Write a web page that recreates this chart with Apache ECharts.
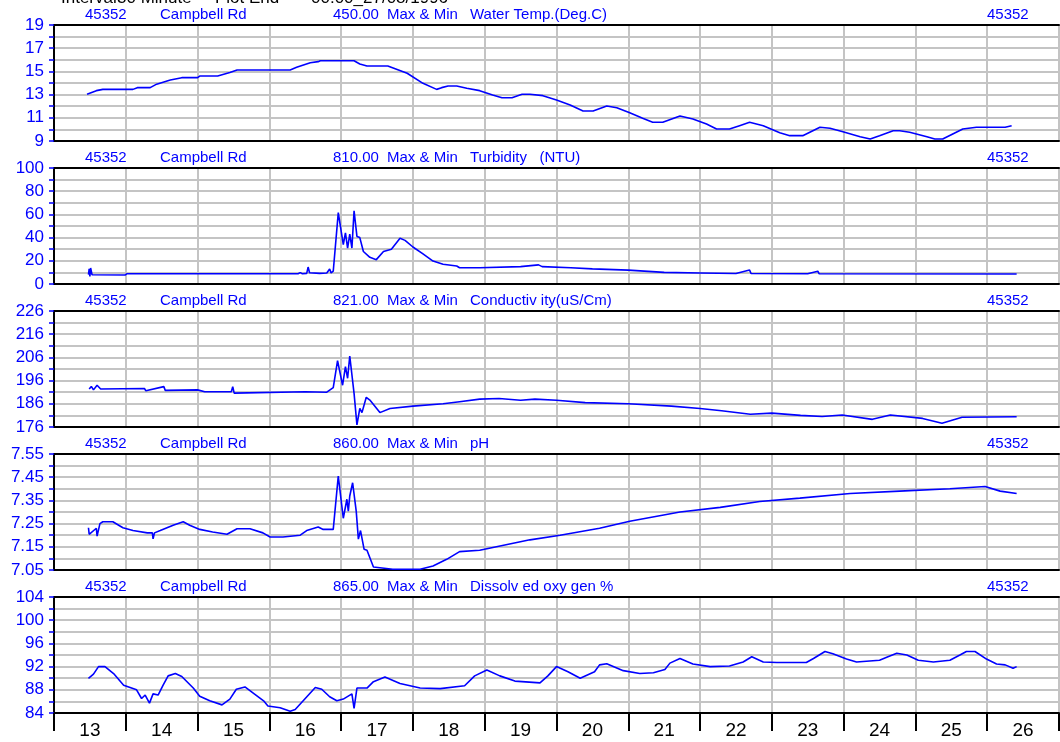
<!DOCTYPE html>
<html>
<head>
<meta charset="utf-8">
<script src="https://cdn.jsdelivr.net/npm/echarts@6/dist/echarts.min.js"></script>
<style>
  html, body { margin: 0; padding: 0; background: #fff; }
  #chart { width: 1060px; height: 742px; }
</style>
</head>
<body>
<div id="chart"></div>
<script>
// x axis day labels
var days = ['13', '14', '15', '16', '17', '18', '19', '20', '21', '22', '23', '24', '25', '26'];

// header texts
var siteCode = '45352';
var siteName = 'Campbell Rd';
var siteNumbers = ['450.00', '810.00', '821.00', '860.00', '865.00'];
var panelNames = ['Water Temp.(Deg.C)', 'Turbidity   (NTU)', 'Conductiv ity(uS/Cm)', 'pH', 'Dissolv ed oxy gen %'];
var headerWords = ['Interval', '30 Minute', 'Plot End', '00:00_27/08/1996'];

// y scales: min, max, minor step (labels every 2 steps)
var yMins = [9, 0, 176, 7.05, 84];
var yMaxs = [19, 100, 226, 7.55, 104];
var ySteps = [1, 10, 5, 0.05, 2];

// series, [day, value]
var tempData = [
  [13.46, 13.03], [13.59, 13.34], [13.68, 13.45], [14.10, 13.45], [14.16, 13.6], [14.34, 13.6],
  [14.43, 13.9], [14.62, 14.26], [14.78, 14.46], [15.00, 14.46], [15.03, 14.6], [15.28, 14.6],
  [15.45, 14.9], [15.55, 15.12], [16.29, 15.12], [16.38, 15.35], [16.57, 15.75], [16.68, 15.84],
  [16.71, 15.92], [17.18, 15.92], [17.26, 15.64], [17.36, 15.47], [17.65, 15.47], [17.92, 14.84],
  [18.14, 13.97], [18.33, 13.45], [18.40, 13.6], [18.49, 13.74], [18.61, 13.74], [18.75, 13.54],
  [18.93, 13.34], [19.11, 12.97], [19.24, 12.73], [19.38, 12.73], [19.52, 13.03], [19.63, 13.03],
  [19.81, 12.91], [20.00, 12.53], [20.19, 12.1], [20.37, 11.59], [20.51, 11.59], [20.70, 12.02],
  [20.84, 11.87], [21.02, 11.44], [21.20, 10.96], [21.34, 10.61], [21.48, 10.61], [21.72, 11.16],
  [21.90, 10.9], [22.09, 10.47], [22.23, 10.03], [22.41, 10.03], [22.55, 10.32], [22.69, 10.61],
  [22.88, 10.32], [23.11, 9.72], [23.25, 9.46], [23.43, 9.46], [23.67, 10.18], [23.81, 10.1],
  [23.99, 9.8], [24.23, 9.37], [24.37, 9.17], [24.50, 9.46], [24.69, 9.89], [24.78, 9.89],
  [24.92, 9.75], [25.16, 9.37], [25.27, 9.17], [25.38, 9.17], [25.66, 10.03], [25.85, 10.18],
  [26.25, 10.18], [26.34, 10.32]
];
var turbData = [
  [13.48, 8], [13.49, 13], [13.50, 6.5], [13.51, 13.8], [13.53, 8], [13.99, 7.8], [14.02, 8.9],
  [16.40, 8.9], [16.43, 9.8], [16.46, 8.9], [16.52, 9.2], [16.54, 14.6], [16.56, 9.7], [16.70, 9.2],
  [16.80, 9.5], [16.84, 13], [16.86, 9.5], [16.89, 11], [16.96, 61.5], [17.03, 34], [17.06, 44],
  [17.09, 31], [17.12, 43], [17.15, 31], [17.18, 63], [17.22, 41], [17.26, 40], [17.31, 28],
  [17.40, 23], [17.49, 21], [17.59, 28], [17.70, 30], [17.82, 39.4], [17.89, 37.6], [18.00, 31.9],
  [18.14, 26], [18.28, 19.8], [18.42, 17], [18.61, 15.5], [18.65, 14], [18.93, 14], [19.50, 15],
  [19.75, 16.5], [19.80, 15], [20.20, 14], [20.50, 13], [21.00, 12], [21.50, 10], [22.00, 9.5],
  [22.50, 9], [22.69, 12], [22.71, 9], [23.50, 8.8], [23.64, 11], [23.66, 8.8], [26.41, 8.6]
];
var condData = [
  [13.49, 192.4], [13.52, 193.5], [13.55, 192], [13.60, 194], [13.65, 192.4], [14.26, 192.6],
  [14.28, 191.6], [14.53, 193.4], [14.55, 191.8], [15.00, 192], [15.10, 191.2], [15.47, 191.2],
  [15.49, 193.4], [15.51, 190.6], [15.53, 191.2], [16.50, 191.2], [16.80, 191], [16.82, 190.6],
  [16.89, 193], [16.95, 204.6], [17.02, 194], [17.06, 202], [17.09, 197], [17.12, 206.6],
  [17.18, 190.5], [17.22, 176.9], [17.26, 184], [17.29, 182.2], [17.35, 188.8], [17.40, 187.6],
  [17.54, 182.2], [17.68, 184], [18.00, 185], [18.42, 186], [18.65, 186.9], [18.93, 188],
  [19.20, 188.3], [19.50, 187.5], [19.70, 188], [20.00, 187.5], [20.40, 186.5], [21.00, 186],
  [21.60, 185], [22.00, 184], [22.30, 183], [22.70, 181.5], [23.00, 182], [23.40, 181],
  [23.70, 180.5], [23.98, 181.2], [24.40, 179.3], [24.65, 181.2], [25.10, 179.7], [25.37, 177.6],
  [25.65, 180.2], [26.41, 180.4]
];
var phData = [
  [13.48, 7.232], [13.49, 7.204], [13.59, 7.23], [13.60, 7.196], [13.64, 7.25], [13.68, 7.258],
  [13.82, 7.258], [13.96, 7.232], [14.10, 7.22], [14.30, 7.21], [14.37, 7.21], [14.38, 7.184],
  [14.40, 7.21], [14.48, 7.22], [14.66, 7.243], [14.80, 7.258], [14.89, 7.243], [15.03, 7.225],
  [15.21, 7.214], [15.41, 7.204], [15.55, 7.228], [15.73, 7.228], [15.91, 7.21], [16.01, 7.192],
  [16.19, 7.192], [16.43, 7.2], [16.52, 7.22], [16.68, 7.235], [16.75, 7.225], [16.89, 7.225],
  [16.96, 7.455], [17.03, 7.273], [17.08, 7.355], [17.10, 7.304], [17.12, 7.369], [17.16, 7.426],
  [17.21, 7.304], [17.24, 7.183], [17.27, 7.22], [17.32, 7.139], [17.36, 7.135], [17.45, 7.063],
  [17.72, 7.053], [18.10, 7.053], [18.28, 7.067], [18.47, 7.096], [18.65, 7.129], [18.93, 7.135],
  [19.63, 7.18], [20.05, 7.2], [20.60, 7.23], [21.02, 7.26], [21.72, 7.3], [22.28, 7.32],
  [22.83, 7.345], [23.39, 7.36], [24.09, 7.38], [24.78, 7.39], [25.48, 7.4], [25.97, 7.41],
  [26.18, 7.39], [26.41, 7.38]
];
var doData = [
  [13.48, 89.98], [13.55, 90.7], [13.62, 92], [13.71, 92], [13.83, 90.8], [13.97, 88.8],
  [14.15, 88], [14.22, 86.5], [14.27, 87.1], [14.33, 85.7], [14.38, 87.3], [14.45, 87.1],
  [14.52, 88.8], [14.59, 90.4], [14.69, 90.8], [14.78, 90.3], [14.94, 88.3], [15.03, 86.9],
  [15.17, 86.1], [15.34, 85.4], [15.45, 86.4], [15.54, 88.1], [15.66, 88.5], [15.78, 87.4],
  [15.92, 86.1], [15.98, 85.2], [16.15, 84.9], [16.29, 84.3], [16.36, 84.6], [16.50, 86.5],
  [16.64, 88.4], [16.73, 88.1], [16.84, 86.8], [16.94, 86.1], [17.03, 86.4], [17.15, 87.3],
  [17.18, 84.8], [17.22, 88.3], [17.36, 88.3], [17.45, 89.4], [17.61, 90.2], [17.82, 89.1],
  [18.10, 88.3], [18.38, 88.2], [18.72, 88.7], [18.86, 90.4], [19.03, 91.4], [19.21, 90.4],
  [19.42, 89.5], [19.77, 89.2], [19.88, 90.4], [20.00, 92], [20.16, 91.1], [20.33, 90.0],
  [20.53, 91.1], [20.60, 92.3], [20.70, 92.5], [20.93, 91.3], [21.16, 90.8], [21.35, 90.95],
  [21.51, 91.5], [21.58, 92.6], [21.72, 93.4], [21.90, 92.45], [22.14, 92], [22.41, 92.1],
  [22.60, 92.8], [22.72, 93.7], [22.88, 92.8], [23.07, 92.7], [23.48, 92.7], [23.58, 93.4],
  [23.74, 94.6], [23.85, 94.2], [24.04, 93.3], [24.18, 92.8], [24.50, 93.1], [24.60, 93.6],
  [24.74, 94.3], [24.88, 94.0], [25.04, 93.1], [25.25, 92.8], [25.48, 93.1], [25.62, 94.0],
  [25.71, 94.6], [25.83, 94.6], [25.99, 93.3], [26.13, 92.45], [26.25, 92.3], [26.36, 91.7],
  [26.41, 92.0]
];

var seriesData = [tempData, turbData, condData, phData, doData];

var blue = '#0000ff';
var gridGray = '#c4c4c4';
var fontFam = '"Liberation Sans", Arial, sans-serif';
var gridTops = [25, 168, 311, 454, 597];
var gridH = 116;

var grids = [], xAxes = [], yAxes = [], series = [], graphics = [];

gridTops.forEach(function (top, i) {
    grids.push({ left: 54, right: 1, top: top, height: gridH });

    // data axis (bottom border + day grid lines)
    xAxes.push({
        type: 'value', gridIndex: i, min: 13, max: 27, interval: 1,
        axisLine: { show: true, onZero: false, lineStyle: { color: '#000', width: 2 } },
        axisTick: { show: false },
        axisLabel: { show: false },
        splitLine: { show: true, lineStyle: { color: gridGray, width: 2 } }
    });
    // top border only
    xAxes.push({
        type: 'value', gridIndex: i, position: 'top', min: 13, max: 27,
        axisLine: { show: true, onZero: false, lineStyle: { color: '#000', width: 2 } },
        axisTick: { show: false },
        axisLabel: { show: false },
        splitLine: { show: false }
    });

    var mn = yMins[i], st = ySteps[i];
    yAxes.push({
        type: 'value', gridIndex: i, min: mn, max: yMaxs[i], interval: st,
        axisLine: { show: true, onZero: false, lineStyle: { color: '#000', width: 2 } },
        axisTick: { show: true, length: 5, lineStyle: { color: blue, width: 1.5 } },
        axisLabel: {
            color: blue, fontSize: 17, fontFamily: fontFam, margin: 10,
            padding: [0, 0, 8, 0],
            formatter: function (v) {
                var k = Math.round((v - mn) / st);
                if (k % 2 !== 0) return '';
                return i === 3 ? v.toFixed(2) : String(Math.round(v));
            }
        },
        splitLine: { show: true, lineStyle: { color: gridGray, width: 2 } }
    });

    series.push({
        type: 'line', xAxisIndex: i * 2, yAxisIndex: i,
        data: seriesData[i], showSymbol: false, symbol: 'none',
        lineStyle: { color: blue, width: 1.6 },
        animation: false
    });

    // panel header
    var ty = top - 18;
    var hdr = [
        [siteCode, 85], [siteName, 160], [siteNumbers[i], 333],
        ['Max & Min', 387], [panelNames[i], 470], [siteCode, 987]
    ];
    hdr.forEach(function (h) {
        graphics.push({
            type: 'text', left: h[1], top: ty, silent: true,
            style: { text: h[0], fill: blue, font: '15px ' + fontFam }
        });
    });
});

// day labels under the last panel
xAxes.push({
    type: 'category', gridIndex: 4, position: 'bottom', data: days, boundaryGap: true,
    axisLine: { show: false },
    axisTick: { show: true, length: 18, interval: 0, lineStyle: { color: '#000', width: 2 } },
    axisLabel: { color: '#000', fontSize: 19, fontFamily: fontFam, margin: 8, interval: 0 },
    splitLine: { show: false }
});

// top line, cut by the page edge
var headerX = [61, 117, 215, 311];
headerWords.forEach(function (w, k) {
    graphics.push({
        type: 'text', left: headerX[k], top: -10, silent: true,
        style: { text: w, fill: '#000', font: '17px ' + fontFam }
    });
});

var chart = echarts.init(document.getElementById('chart'));
chart.setOption({
    animation: false,
    backgroundColor: '#fff',
    grid: grids,
    xAxis: xAxes,
    yAxis: yAxes,
    series: series,
    graphic: graphics
});
</script>
</body>
</html>
